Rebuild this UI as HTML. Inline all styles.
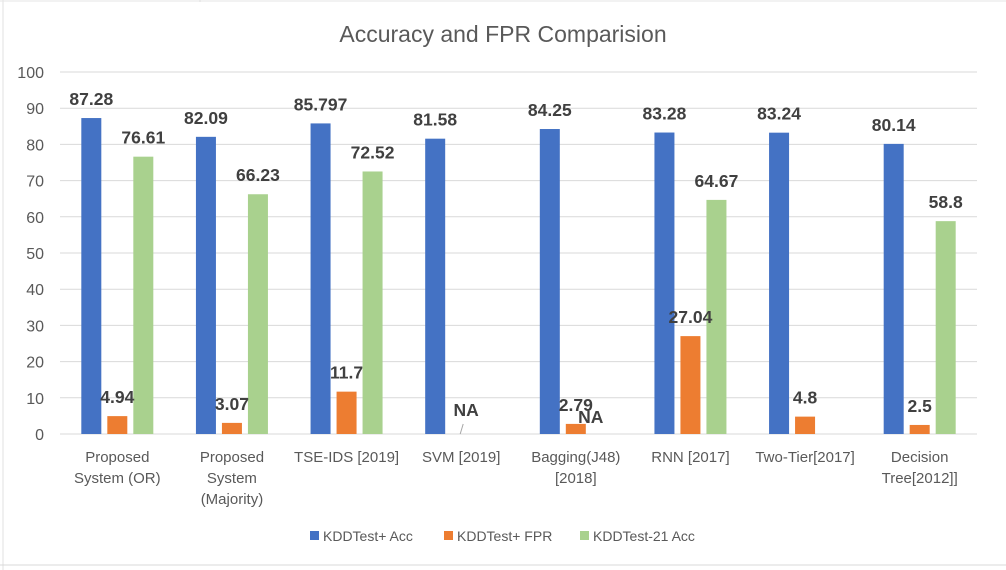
<!DOCTYPE html>
<html><head><meta charset="utf-8"><style>
body{margin:0;background:#fff;width:1006px;height:570px;overflow:hidden;font-family:"Liberation Sans",sans-serif}
</style></head><body>
<svg id="c" width="1006" height="570" style="position:absolute;left:0;top:0">
<line x1="3" y1="0" x2="3" y2="570" stroke="#e0e0e0"/>
<line x1="200" y1="0" x2="200" y2="2" stroke="#d8d8d8"/>
<line x1="0" y1="565" x2="1006" y2="565" stroke="#d8d8d8"/>
<line x1="0" y1="1" x2="1006" y2="1" stroke="#e6e6e6"/>
<text x="503" y="42" text-anchor="middle" font-size="23" fill="#595959">Accuracy and FPR Comparision</text>
<g id="grid"></g><g id="bars"></g><g id="labels"></g>
<g font-size="14" fill="#595959">
<rect x="310" y="531" width="9" height="9" fill="#4472c4"/><text x="323" y="541">KDDTest+ Acc</text>
<rect x="444" y="531" width="9" height="9" fill="#ed7d31"/><text x="457" y="541">KDDTest+ FPR</text>
<rect x="580" y="531" width="9" height="9" fill="#a9d18e"/><text x="593" y="541">KDDTest-21 Acc</text>
</g>
</svg>
<script>
const categories=[["Proposed","System (OR)"],["Proposed","System","(Majority)"],["TSE-IDS [2019]"],["SVM [2019]"],["Bagging(J48)","[2018]"],["RNN [2017]"],["Two-Tier[2017]"],["Decision","Tree[2012]]"]];
const accPlus=[87.28,82.09,85.797,81.58,84.25,83.28,83.24,80.14];
const fprPlus=[4.94,3.07,11.7,null,2.79,27.04,4.8,2.5];
const acc21=[76.61,66.23,72.52,null,null,64.67,null,58.8];
const accLabels=["87.28","82.09","85.797","81.58","84.25","83.28","83.24","80.14"];
const fprLabels=["4.94","3.07","11.7","NA","2.79","27.04","4.8","2.5"];
const acc21Labels=["76.61","66.23","72.52","","NA","64.67","","58.8"];
const yTicks=[0,10,20,30,40,50,60,70,80,90,100];
const NS="http://www.w3.org/2000/svg";
const L=60,R=977,T=72,B=434;
const y=v=>B-(v/100)*(B-T);
const cw=(R-L)/categories.length;
const cx=i=>L+cw*(i+0.5);
function mk(tag,attrs,parent,txt){const e=document.createElementNS(NS,tag);for(const k in attrs)e.setAttribute(k,attrs[k]);if(txt!==undefined)e.textContent=txt;document.getElementById(parent).appendChild(e);return e;}
yTicks.forEach(t=>{
 const l=mk('line',{x1:L,x2:R,y1:y(t),y2:y(t),stroke:'#d9d9d9'},'grid');
 
 
 const tx=mk('text',{x:44,y:y(t)+6,'text-anchor':'end','font-size':16,fill:'#595959'},'grid',t);
 
 
});
const series=[[accPlus,accLabels,'#4472c4',-26,'acc'],[fprPlus,fprLabels,'#ed7d31',0,'fpr'],[acc21,acc21Labels,'#a9d18e',26,'acc21']];
categories.forEach((c,i)=>{
 c.forEach((ln,j)=>{const t=mk('text',{x:cx(i),y:462+j*21,'text-anchor':'middle','font-size':15,fill:'#595959'},'labels',ln);
 
 });
 series.forEach(([vals,labs,col,off,nm])=>{
  const v=vals[i];const bx=cx(i)+off;
  if(v!==null){const r=mk('rect',{x:bx-10,y:y(v),width:20,height:B-y(v),fill:col},'bars');
   
   }
  const lab=labs[i];if(!lab)return;
  let ly=(v!==null?y(v):B)-13, lx=bx;
  if(v===null&&nm==='fpr'){ly=416;lx=bx+5;}
  if(v===null&&nm==='acc21'){ly=423;lx=bx-11;}
  const t=mk('text',{x:lx,y:ly,'text-anchor':'middle','font-size':17.5,'font-weight':'bold',fill:'#404040'},'labels',lab);
  
  
 });
});
const lk=mk('line',{x1:cx(3)+2,y1:424,x2:cx(3)-1,y2:434,stroke:'#a6a6a6'},'labels');


</script>
</body></html>
